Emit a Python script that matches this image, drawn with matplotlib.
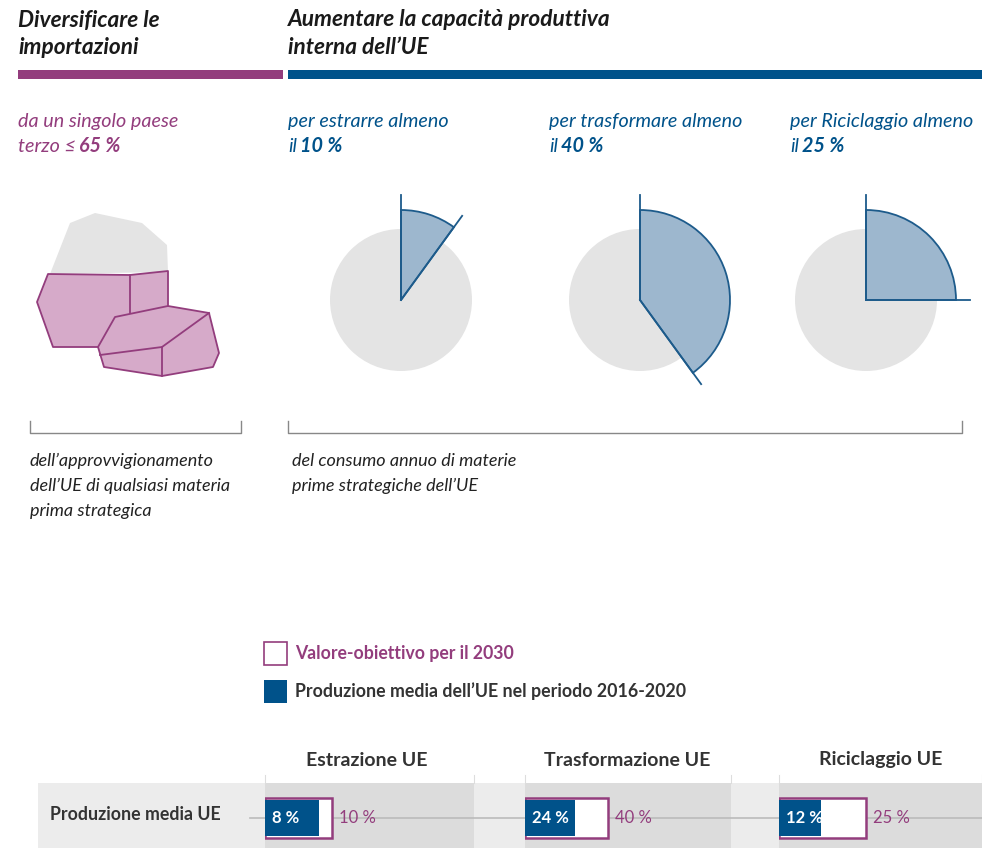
import matplotlib
matplotlib.use('Agg')
import numpy as np
import matplotlib.pyplot as plt
from matplotlib.patches import Wedge, Circle, Polygon, Rectangle

# data
pie_labels = ['per estrarre almeno', 'per trasformare almeno', 'per Riciclaggio almeno']
pie_targets = [10, 40, 25]
cols = ['Estrazione UE', 'Trasformazione UE', 'Riciclaggio UE']
target_2030 = [10, 40, 25]
avg_prod = [8, 24, 12]
import_cap = 65

W, H = 982, 848
PURPLE = '#933d7d'
BLUE = '#00528a'
DARK = '#333333'
FONT = 'Lato'

fig = plt.figure(figsize=(W / 100, H / 100), dpi=100)
ax = fig.add_axes([0, 0, 1, 1])
ax.set_xlim(0, W)
ax.set_ylim(H, 0)
ax.axis('off')
renderer = fig.canvas.get_renderer()


def lines(x, y, rows, step, **kw):
    for i, r in enumerate(rows):
        ax.text(x, y + i * step, r, va='center', ha='left', family=FONT, **kw)


def two_part(x, y, a, b, **kw):
    # normal part followed by bold part
    t = ax.text(x, y, a, va='center', ha='left', family=FONT, **kw)
    bb = t.get_window_extent(renderer)
    ax.text(bb.x1 + 3, y, b, va='center', ha='left', family=FONT, weight='bold', **kw)


# headings
lines(18, 20, ['Diversificare le', 'importazioni'], 28, fontsize=16.3,
      weight='bold', style='italic', color='#1a1a1a')
lines(288, 20, ['Aumentare la capacità produttiva', 'interna dell\u2019UE'], 28,
      fontsize=16.3, weight='bold', style='italic', color='#1a1a1a')
ax.add_patch(Rectangle((18, 70), 265, 9, color=PURPLE, lw=0))
ax.add_patch(Rectangle((288, 70), W - 288, 9, color=BLUE, lw=0))

# sub headings
sub_kw = dict(style='italic', fontsize=14.2)
ax.text(18, 121, 'da un singolo paese', va='center', family=FONT, color=PURPLE, **sub_kw)
two_part(18, 146, 'terzo \u2264', f'{import_cap} %', color=PURPLE, **sub_kw)

pie_x = [401, 640, 866]
text_x = [288, 549, 790]
for lab, v, cx, tx in zip(pie_labels, pie_targets, pie_x, text_x):
    ax.text(tx, 121, lab, va='center', family=FONT, color=BLUE, **sub_kw)
    two_part(tx, 146, 'il', f'{v} %', color=BLUE, **sub_kw)
    cy = 300
    ax.add_patch(Circle((cx, cy), 71, color='#e4e4e4', lw=0))
    ax.add_patch(Wedge((cx, cy), 90, -90, -90 + 3.6 * v, facecolor='#9db7ce',
                       edgecolor='#1d5b8b', lw=1.3))
    ax.plot([cx, cx], [cy, cy - 105], color='#1d5b8b', lw=1.3)
    a = np.deg2rad(-90 + 3.6 * v)
    ax.plot([cx, cx + 104 * np.cos(a)], [cy, cy + 104 * np.sin(a)],
            color='#1d5b8b', lw=1.3)

# rocks illustration
ax.add_patch(Polygon([(50, 274), (70, 223), (95, 213), (142, 223), (167, 245),
                      (168, 272)], color='#e4e4e4', lw=0))
rock_kw = dict(facecolor='#d6aac9', edgecolor=PURPLE, lw=1.3, joinstyle='round')
ax.add_patch(Polygon([(48, 274), (130, 275), (168, 271), (168, 320), (100, 347),
                      (53, 347), (37, 302)], **rock_kw))
ax.plot([130, 130], [275, 313], color=PURPLE, lw=1.3)
ax.add_patch(Polygon([(115, 317), (168, 306), (209, 313), (219, 353), (213, 367),
                      (162, 376), (104, 367), (98, 347)], **rock_kw))
ax.plot([209, 162, 162], [313, 347, 376], color=PURPLE, lw=1.3)
ax.plot([162, 100], [347, 355], color=PURPLE, lw=1.3)

# brackets
for x0, x1 in [(30, 241), (288, 962)]:
    ax.plot([x0, x0, x1, x1], [421, 433, 433, 421], color='#888888', lw=1)
lines(30, 461, ['dell\u2019approvvigionamento', 'dell\u2019UE di qualsiasi materia',
                'prima strategica'], 25, fontsize=13, style='italic', color='#222222')
lines(292, 461, ['del consumo annuo di materie', 'prime strategiche dell\u2019UE'], 25,
      fontsize=13, style='italic', color='#222222')

# legend
ax.add_patch(Rectangle((264, 642), 23, 23, facecolor='white', edgecolor=PURPLE, lw=1.2))
ax.add_patch(Rectangle((264, 680), 23, 23, facecolor=BLUE, lw=0))
ax.text(295, 654, 'Valore-obiettivo per il 2030', va='center', family=FONT,
        weight='bold', fontsize=12.7, color=PURPLE)
ax.text(295, 691, 'Produzione media dell\u2019UE nel periodo 2016-2020', va='center',
        family=FONT, weight='bold', fontsize=12.8, color=DARK)

# bottom table
col_left = [265, 525, 779]
col_right = [474, 731, W]
box_w = [67, 83, 87]
ax.add_patch(Rectangle((38, 783), W - 38, H - 783, color='#ececec', lw=0))
for cl, cr, name in zip(col_left, col_right, cols):
    ax.add_patch(Rectangle((cl, 783), cr - cl, H - 783, color='#dcdcdc', lw=0))
    ax.plot([cl, cl], [775, 783], color='#dddddd', lw=0.8)
    ax.plot([cr, cr], [775, 783], color='#dddddd', lw=0.8)
    ax.text(cl + 102, 760, name, ha='center', va='center', family=FONT,
            weight='bold', fontsize=14, color=DARK)
ax.plot([250, W], [818, 818], color='#bbbbbb', lw=1.2)
ax.text(50, 815, 'Produzione media UE', va='center', family=FONT, weight='bold',
        fontsize=12.8, color=DARK)

for i in range(len(cols)):
    x0 = col_left[i]
    sub = fig.add_axes([x0 / W, 1 - 840 / H, 210 / W, 44 / H])
    sub.set_xlim(0, target_2030[i] * 210 / box_w[i])
    sub.set_ylim(-0.5, 0.5)
    sub.axis('off')
    sub.patch.set_alpha(0)
    sub.barh(0, target_2030[i], height=0.93, left=0, color='white',
             edgecolor=PURPLE, lw=1.8)
    sub.barh(0, avg_prod[i], height=0.8, left=0, color=BLUE, lw=0)
    sub.annotate(f'{avg_prod[i]} %', (0, 0), xytext=(5, 0), textcoords='offset points',
                 va='center', ha='left', family=FONT, weight='bold', fontsize=12,
                 color='white')
    sub.annotate(f'{target_2030[i]} %', (target_2030[i], 0), xytext=(5, 0),
                 textcoords='offset points', va='center', ha='left', family=FONT,
                 fontsize=12, color=PURPLE)

fig.savefig('out.png', dpi=100)
